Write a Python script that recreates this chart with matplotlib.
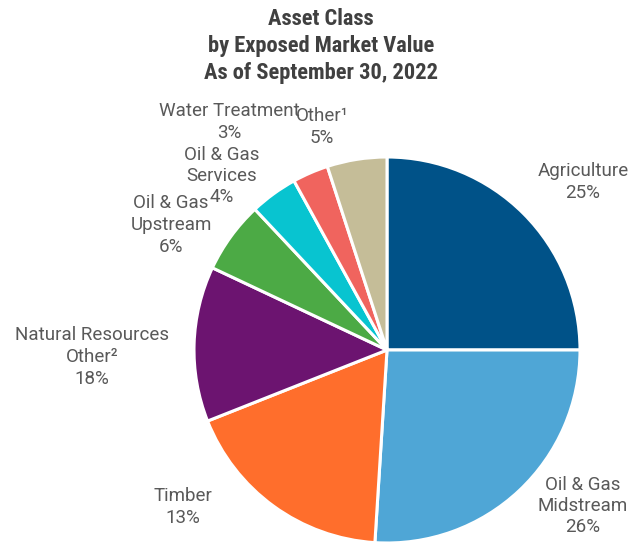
import matplotlib
matplotlib.use('Agg')
from matplotlib import pyplot as plt

# Exposure by asset class, in drawing order (clockwise from 12 o'clock)
names = ['Agriculture', 'Oil & Gas\nMidstream', 'Natural Resources\nOther\u00b2', 'Timber',
         'Oil & Gas\nUpstream', 'Oil & Gas\nServices', 'Water Treatment', 'Other\u00b9']
shares = [25, 26, 18, 13, 6, 4, 3, 5]
colors = ['#005288', '#4fa6d6', '#ff6e2c', '#6c1470', '#4caa45', '#08c4d0', '#f0645e', '#c5bd98']

# label anchor points in pixel coordinates (x, y from top)
label_pos = [(583, 182), (583, 506), (92, 357), (183, 507),
             (171, 225), (222, 176), (229, 122), (322, 127)]

W, H = 631, 542
fig = plt.figure(figsize=(W / 100, H / 100), dpi=100)
ax = fig.add_axes([0, 0, 1, 1])

ax.pie(shares, colors=colors, startangle=90, counterclock=False,
       center=(387, H - 350), radius=193,
       wedgeprops=dict(edgecolor='white', linewidth=2.2))

ax.set_xlim(0, W)
ax.set_ylim(0, H)
ax.set_aspect('equal')
ax.axis('off')

for name, val, (px, py) in zip(names, shares, label_pos):
    ax.text(px, H - py, f'{name}\n{val}%', ha='center', va='center',
            fontsize=13.5, family='Roboto', color='#595959', linespacing=1.25)

title = 'Asset Class\nby Exposed Market Value\nAs of September 30, 2022'
ax.text(321, H - 46, title, ha='center', va='center', fontsize=16.2,
        family=['Roboto Condensed', 'Liberation Sans Narrow'], fontweight='bold',
        color='#404040', linespacing=1.32)

fig.savefig('out.png', dpi=100)
